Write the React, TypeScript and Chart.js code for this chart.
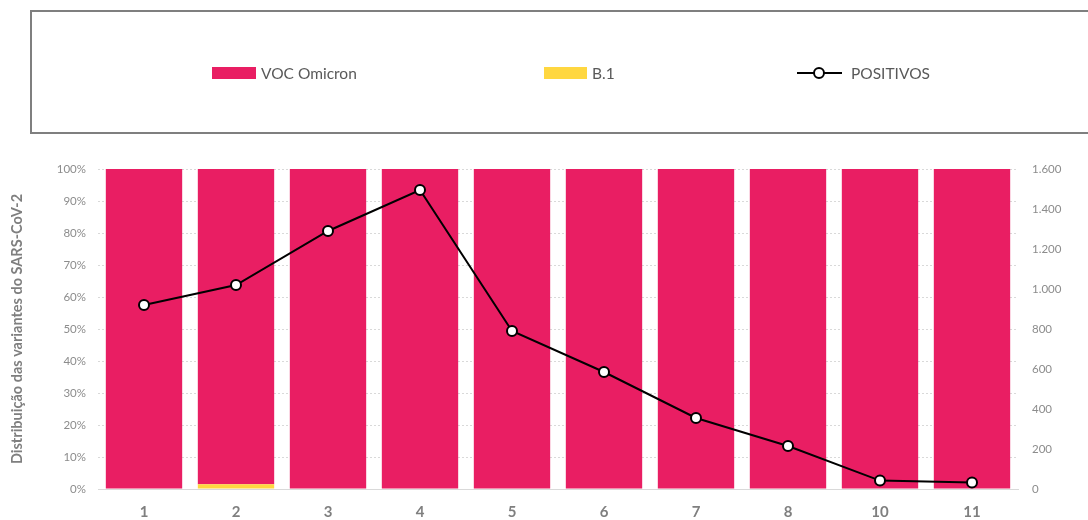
import React, { useEffect, useRef } from "react";
import { Chart, registerables } from "chart.js";

Chart.register(...registerables);

const categories = ["1", "2", "3", "4", "5", "6", "7", "8", "10", "11"];
const omicronPct = [100, 98.5, 100, 100, 100, 100, 100, 100, 100, 100];
const b1Pct = [0, 1.5, 0, 0, 0, 0, 0, 0, 0, 0];
const positivos = [920, 1020, 1290, 1495, 790, 585, 355, 215, 42, 33];

const PINK = "#E91E63";
const YELLOW = "#FFD740";
const FONT = "Lato, 'Open Sans', sans-serif";

export default function App() {
  const ref = useRef<HTMLCanvasElement>(null);

  useEffect(() => {
    if (!ref.current) return;
    const chart = new Chart(ref.current, {
      type: "bar",
      data: {
        labels: categories,
        datasets: [
          {
            type: "line",
            label: "POSITIVOS",
            data: positivos,
            yAxisID: "y1",
            borderColor: "#000000",
            borderWidth: 2,
            pointRadius: 5,
            pointBorderWidth: 2,
            pointBackgroundColor: "#ffffff",
            pointBorderColor: "#000000",
            tension: 0,
            order: 0,
          } as any,
          {
            label: "B.1",
            data: b1Pct,
            backgroundColor: YELLOW,
            yAxisID: "y",
            stack: "s",
            categoryPercentage: 1,
            barPercentage: 0.83,
            order: 1,
          },
          {
            label: "VOC Omicron",
            data: omicronPct,
            backgroundColor: PINK,
            yAxisID: "y",
            stack: "s",
            categoryPercentage: 1,
            barPercentage: 0.83,
            order: 1,
          },
        ],
      },
      options: {
        responsive: false,
        animation: false,
        layout: { padding: { top: 169, left: 0, right: 0, bottom: 0 } },
        plugins: {
          legend: { display: false },
          tooltip: { enabled: false },
        },
        scales: {
          x: {
            stacked: true,
            grid: { display: false, drawTicks: false },
            border: { display: true, color: "#d9d9d9", width: 1 },
            ticks: {
              color: "#7f7f7f",
              font: { family: FONT, size: 15, weight: "bold" },
              padding: 14,
            },
            afterFit: (s: any) => {
              s.height = 31;
            },
          },
          y: {
            stacked: true,
            position: "left",
            min: 0,
            max: 100,
            grid: { color: "#d9d9d9", drawTicks: false },
            border: { display: false, dash: [2, 2] },
            ticks: {
              stepSize: 10,
              color: "#8c8c8c",
              font: { family: FONT, size: 11.5 },
              padding: 12,
              callback: (v: any) => v + "%",
            },
            title: {
              display: true,
              text: "Distribuição das variantes do SARS-CoV-2",
              color: "#7f7f7f",
              font: { family: FONT, size: 14.5, weight: "bold" },
              padding: { top: 9, bottom: 0 },
            },
            afterFit: (s: any) => {
              s.width = 98;
            },
          },
          y1: {
            position: "right",
            min: 0,
            max: 1600,
            grid: { display: false, drawTicks: false },
            border: { display: false },
            ticks: {
              stepSize: 200,
              color: "#8c8c8c",
              font: { family: FONT, size: 11.5 },
              padding: 14,
              callback: (v: any) =>
                String(v).replace(/\B(?=(\d{3})+(?!\d))/g, "."),
            },
            afterFit: (s: any) => {
              s.width = 70;
            },
          },
        },
      },
    });
    return () => chart.destroy();
  }, []);

  const textStyle: React.CSSProperties = {
    position: "absolute",
    fontFamily: FONT,
    fontSize: 15.5,
    color: "#595959",
    top: 63,
    lineHeight: "20px",
    whiteSpace: "nowrap",
  };

  return (
    <div
      style={{
        position: "fixed",
        left: 0,
        top: 0,
        width: 1088,
        height: 520,
        background: "#ffffff",
        overflow: "hidden",
      }}
    >
      <canvas
        ref={ref}
        width={1088}
        height={520}
        style={{ position: "absolute", left: 0, top: 0 }}
      />
      <div
        style={{
          position: "absolute",
          left: 30,
          top: 10,
          width: 1080,
          height: 120,
          border: "2px solid #7f7f7f",
          boxSizing: "content-box",
        }}
      />
      <div
        style={{
          position: "absolute",
          left: 212,
          top: 67,
          width: 44,
          height: 12,
          background: PINK,
        }}
      />
      <span style={{ ...textStyle, left: 261 }}>VOC Omicron</span>
      <div
        style={{
          position: "absolute",
          left: 544,
          top: 67,
          width: 43,
          height: 12,
          background: YELLOW,
        }}
      />
      <span style={{ ...textStyle, left: 592 }}>B.1</span>
      <div
        style={{
          position: "absolute",
          left: 797,
          top: 72,
          width: 45,
          height: 2,
          background: "#000",
        }}
      />
      <div
        style={{
          position: "absolute",
          left: 813,
          top: 67,
          width: 8,
          height: 8,
          borderRadius: "50%",
          border: "2px solid #000",
          background: "#fff",
        }}
      />
      <span style={{ ...textStyle, left: 851 }}>POSITIVOS</span>
    </div>
  );
}
